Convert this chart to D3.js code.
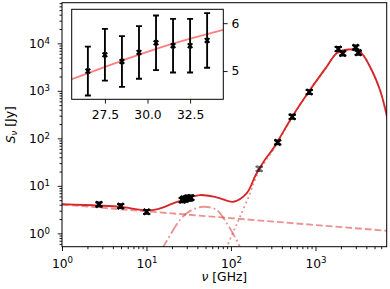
<!DOCTYPE html>
<html><head><meta charset="utf-8">
<script src="https://cdn.jsdelivr.net/npm/d3@7"></script>
<style>
body{margin:0;background:#fff}
svg{display:block}
text{font-family:"DejaVu Sans",sans-serif;fill:#000}
</style>
</head><body>
<svg id="c" width="390" height="289"></svg>
<script>
// ---- observed flux densities ----
const obsFreq  = [2.74, 4.95, 10.05, 26.5, 27.5, 28.5, 29.5, 30.5, 31.5, 32.5, 33.5, 216, 357, 531, 845, 1862, 2099, 2992, 3211];
const obsFlux  = [4.08, 3.76, 2.85, 5.00, 5.34, 5.20, 5.39, 5.59, 5.53, 5.53, 5.64, 22.9, 82.4, 285, 944, 7590, 6160, 8240, 6340];
const obsErr   = [0.40, 0.37, 0.28, 0.51, 0.54, 0.53, 0.55, 0.57, 0.56, 0.56, 0.57, 2.3, 8.0, 28, 94, 760, 620, 820, 630];
const obsFaded = [0, 0, 0, 0, 0, 0, 0, 0, 0, 0, 0, 1, 0, 0, 0, 0, 0, 0, 0];

// ---- model curves ----
const totalFreq = [1, 2.74, 4.95, 10, 13.2, 20.7, 27.2, 32.6, 43, 67.6, 106.6, 153, 196, 251, 317, 546, 860, 1358, 1783, 2445, 3363, 4416, 5800, 6960, 7600];
const totalFlux = [4.10, 3.85, 3.61, 3.05, 3.20, 4.28, 5.05, 5.67, 6.40, 5.73, 4.63, 6.95, 16.9, 34.9, 61.5, 310, 1040, 3214, 6155, 7400, 6660, 3214, 1040, 310, 150];

const freeFreeFreq = [1, 7600];
const freeFreeFlux = [4.05, 1.12];

const ameFreq = [11, 13.7, 15.8, 24.9, 32.6, 47, 67.6, 89, 122, 131, 140];
const ameFlux = [0.20, 0.35, 0.522, 1.91, 2.94, 3.63, 3.10, 1.63, 0.615, 0.445, 0.30];

const dustFreq = [75, 85, 106.5, 128, 168, 196, 251, 317, 546, 860, 1358, 1783, 2445, 3363, 4416, 5800, 6960, 7600];
const dustFlux = [0.25, 0.424, 1.08, 2.23, 6.95, 14.6, 31.7, 58, 305, 1035, 3210, 6150, 7395, 6655, 3212, 1039, 309, 150];

// ---- inset (linear zoom on 26-34 GHz) ----
const insetModelFreq = [25.0, 25.55, 28.6, 30.56, 34.45, 35.0];
const insetModelFlux = [4.76, 4.83, 5.23, 5.47, 5.86, 5.91];

// ---- tick labels ----
const xMajor = [1, 10, 100, 1000];
const yMajor = [1, 10, 100, 1000, 10000];
const insetXTicks = [27.5, 30.0, 32.5];
const insetYTicks = [5, 6];

const svg = d3.select("#c");
const FS = 12.3, SUP = 8.6;
const red = "#d62728";

const M = {l: 62, t: 2.7, r: 386.7, b: 246.7};
const x = d3.scaleLog().domain([1, 6966]).range([M.l, M.r]);
const y = d3.scaleLog().domain([0.524, 71600]).range([M.b, M.t]);

function minorTicks(lo, hi) {
  const out = [];
  for (let e = -1; e <= 4; e++) for (let k = 2; k <= 9; k++) {
    const v = k * Math.pow(10, e);
    if (v >= lo && v <= hi) out.push(v);
  }
  return out;
}

svg.append("defs").append("clipPath").attr("id", "clipMain")
  .append("rect").attr("x", M.l).attr("y", M.t).attr("width", M.r - M.l).attr("height", M.b - M.t);

function powLabel(sel) {
  sel.each(function (d) {
    const t = d3.select(this);
    t.text(null);
    t.append("tspan").text("10");
    t.append("tspan").attr("dy", "-0.48em").attr("font-size", SUP + "px").text(Math.round(Math.log10(d)));
  });
}

// x axis
const gx = svg.append("g").attr("transform", `translate(0,${M.b})`);
gx.call(d3.axisBottom(x).tickValues(minorTicks(1, 6966)).tickSize(2.5).tickFormat(""));
gx.call(g => g.select(".domain").remove());
const gx2 = svg.append("g").attr("transform", `translate(0,${M.b})`);
gx2.call(d3.axisBottom(x).tickValues(xMajor).tickSize(4.3).tickPadding(7.8));
gx2.select(".domain").remove();
gx2.selectAll("text").attr("font-size", FS + "px").call(powLabel);

// y axis
const gy = svg.append("g").attr("transform", `translate(${M.l},0)`);
gy.call(d3.axisLeft(y).tickValues(minorTicks(0.524, 71600)).tickSize(2.5).tickFormat(""));
gy.select(".domain").remove();
const gy2 = svg.append("g").attr("transform", `translate(${M.l},0)`);
gy2.call(d3.axisLeft(y).tickValues(yMajor).tickSize(4.3).tickPadding(7.7));
gy2.select(".domain").remove();
gy2.selectAll("text").attr("font-size", FS + "px").call(powLabel);

svg.selectAll(".tick line").attr("stroke", "#000").attr("stroke-width", 0.9);

// curves
const plot = svg.append("g").attr("clip-path", "url(#clipMain)");
const lineGen = d3.line().x(d => x(d[0])).y(d => y(d[1])).curve(d3.curveCatmullRom.alpha(0.5));
const zip = (a, b) => a.map((v, i) => [v, b[i]]);

plot.append("path").datum(zip(freeFreeFreq, freeFreeFlux))
  .attr("d", d3.line().x(d => x(d[0])).y(d => y(d[1])))
  .attr("fill", "none").attr("stroke", red).attr("stroke-opacity", 0.5)
  .attr("stroke-width", 1.85).attr("stroke-dasharray", "6.8,3");
plot.append("path").datum(zip(ameFreq, ameFlux)).attr("d", lineGen)
  .attr("fill", "none").attr("stroke", red).attr("stroke-opacity", 0.5)
  .attr("stroke-width", 1.85).attr("stroke-dasharray", "11.8,3,1.85,3");
plot.append("path").datum(zip(dustFreq, dustFlux)).attr("d", lineGen)
  .attr("fill", "none").attr("stroke", red).attr("stroke-opacity", 0.5)
  .attr("stroke-width", 1.85).attr("stroke-dasharray", "1.85,3.05");
plot.append("path").datum(zip(totalFreq, totalFlux)).attr("d", lineGen)
  .attr("fill", "none").attr("stroke", red).attr("stroke-width", 1.85);

// data points with error bars
function drawPoints(g, xs, ys, data, cap, ms, sw) {
  const pts = g.selectAll("g.pt").data(data).enter().append("g").attr("class", "pt")
    .attr("opacity", d => d.faded ? 0.55 : 1);
  pts.append("line").attr("x1", d => xs(d.f)).attr("x2", d => xs(d.f))
    .attr("y1", d => ys(d.s - d.e)).attr("y2", d => ys(d.s + d.e))
    .attr("stroke", "#000").attr("stroke-width", 1.85);
  [-1, 1].forEach(sg => {
    pts.append("line").attr("x1", d => xs(d.f) - cap).attr("x2", d => xs(d.f) + cap)
      .attr("y1", d => ys(d.s + sg * d.e)).attr("y2", d => ys(d.s + sg * d.e))
      .attr("stroke", "#000").attr("stroke-width", 1.85);
  });
  pts.append("path")
    .attr("d", d => { const cx = xs(d.f), cy = ys(d.s);
      return `M${cx - ms},${cy - ms}L${cx + ms},${cy + ms}M${cx - ms},${cy + ms}L${cx + ms},${cy - ms}`; })
    .attr("stroke", "#000").attr("stroke-width", sw).attr("fill", "none");
}
const obs = obsFreq.map((f, i) => ({f, s: obsFlux[i], e: obsErr[i], faded: obsFaded[i]}));
drawPoints(plot, x, y, obs, 3.6, 3.0, 2.4);

// frame
svg.append("rect").attr("x", M.l).attr("y", M.t).attr("width", M.r - M.l).attr("height", M.b - M.t)
  .attr("fill", "none").attr("stroke", "#000").attr("stroke-width", 1);

// axis labels
const xl = svg.append("text").attr("x", (M.l + M.r) / 2).attr("y", 281).attr("text-anchor", "middle").attr("font-size", FS + "px");
xl.append("tspan").attr("font-style", "italic").text("ν");
xl.append("tspan").text(" [GHz]");
const yl = svg.append("text").attr("transform", `translate(14.5,${(M.t + M.b) / 2}) rotate(-90)`)
  .attr("text-anchor", "middle").attr("font-size", FS + "px");
yl.append("tspan").attr("font-style", "italic").text("S");
yl.append("tspan").attr("font-style", "italic").attr("font-size", SUP + "px").attr("dy", "0.25em").text("ν");
yl.append("tspan").attr("dy", "-0.18em").text(" [Jy]");

// ---- inset ----
const I = {l: 71.7, t: 9.3, r: 223.3, b: 99.3};
const ix = d3.scaleLinear().domain([25.55, 34.45]).range([I.l, I.r]);
const iy = d3.scaleLinear().domain([4.41, 6.29]).range([I.b, I.t]);
const defs = svg.select("defs");
defs.append("clipPath").attr("id", "clipInset")
  .append("rect").attr("x", I.l).attr("y", I.t).attr("width", I.r - I.l).attr("height", I.b - I.t);
svg.append("rect").attr("x", I.l).attr("y", I.t).attr("width", I.r - I.l).attr("height", I.b - I.t).attr("fill", "#fff");
const ig = svg.append("g").attr("clip-path", "url(#clipInset)");
ig.append("path").datum(zip(insetModelFreq, insetModelFlux))
  .attr("d", d3.line().x(d => ix(d[0])).y(d => iy(d[1])).curve(d3.curveMonotoneX))
  .attr("fill", "none").attr("stroke", "#ff0000").attr("stroke-opacity", 0.5).attr("stroke-width", 1.85);
const insetObs = obs.filter(d => d.f > 25 && d.f < 35);
drawPoints(ig, ix, iy, insetObs, 3, 2.3, 2.0);
svg.append("rect").attr("x", I.l).attr("y", I.t).attr("width", I.r - I.l).attr("height", I.b - I.t)
  .attr("fill", "none").attr("stroke", "#000").attr("stroke-width", 1);

const igx = svg.append("g").attr("transform", `translate(0,${I.b})`)
  .call(d3.axisBottom(ix).tickValues(insetXTicks).tickSize(4.3).tickPadding(7.0).tickFormat(d3.format(".1f")));
igx.select(".domain").remove();
igx.selectAll("text").attr("font-size", FS + "px");
const igy = svg.append("g").attr("transform", `translate(${I.r},0)`)
  .call(d3.axisRight(iy).tickValues(insetYTicks).tickSize(4.3).tickPadding(4.0).tickFormat(d3.format("d")));
igy.select(".domain").remove();
igy.selectAll("text").attr("font-size", FS + "px");
svg.selectAll(".tick line").attr("stroke", "#000").attr("stroke-width", 0.9);
svg.selectAll(".tick text").attr("font-family", "DejaVu Sans");
</script>
</body></html>
